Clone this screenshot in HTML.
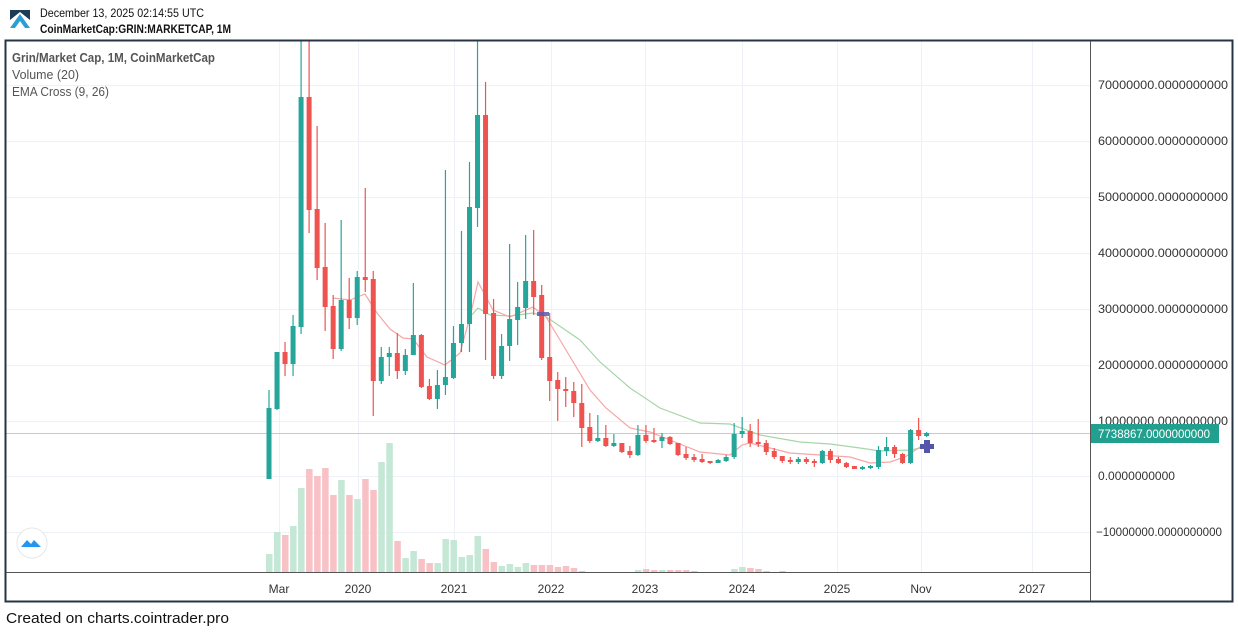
<!DOCTYPE html>
<html><head><meta charset="utf-8"><style>
body{margin:0;background:#fff;width:1238px;height:632px;overflow:hidden;font-family:"Liberation Sans",sans-serif}
svg{position:absolute;left:0;top:0}
</style></head><body>
<svg id="s" width="1238" height="632" xmlns="http://www.w3.org/2000/svg" font-family="Liberation Sans, sans-serif">
<rect width="1238" height="632" fill="#fff"/>
<g id="grid" stroke="#eef2f7" stroke-width="1"></g>
<g id="vol"></g>
<line x1="6" y1="433.5" x2="1090" y2="433.5" stroke="#a8d8d0" stroke-width="1"/>
<polyline fill="none" stroke="#a5d6a7" stroke-width="1.2" points="470,317 478,308 490,315 510,316 533,313 545,316 580,340 600,362 630,388 660,408 700,423 730,424 760,435 800,442 830,444 860,448 880,451 910,450 927,447"/>
<polyline fill="none" stroke="#f7a5a5" stroke-width="1.2" points="333,298 350,300 365,294 377,313 390,329 403,338 413,339 427,357 445,365 460,353 470,317 478,282 493,310 510,317 533,307 546,317 560,340 590,390 606,408 630,428 650,432 670,440 700,452 730,455 742,445 750,443 770,448 790,453 820,455 850,457 870,463 890,462 905,457 920,447 927,448"/>
<g id="c"></g>
<rect x="537" y="312" width="12" height="4" fill="#5b5bb0" opacity="0.85"/>
<path d="M924 440h6v4h4v5h-4v4h-6v-4h-4v-5h4z" fill="#5555aa"/>
<rect x="5.5" y="40.5" width="1227" height="561" fill="none" stroke="#263545" stroke-width="2"/>
<line x1="1090.5" y1="41" x2="1090.5" y2="601" stroke="#555" stroke-width="1"/>
<line x1="6" y1="572.5" x2="1090" y2="572.5" stroke="#555" stroke-width="1"/>
<g id="ylab" font-size="12" fill="#333"></g>
<rect x="1091" y="424" width="128" height="19" fill="#22a08f"/>
<text x="1098" y="438" font-size="12" fill="#fff" textLength="112" lengthAdjust="spacingAndGlyphs">7738867.0000000000</text>
<g id="xlab" font-size="12" fill="#333" text-anchor="middle"></g>
<path d="M10 28 L20 14 L30 28 L25 28 L20 21 L15 28Z" fill="#2a9fd6"/>
<path d="M10 10h20v10l-10-8-10 8z" fill="#1d3b55"/>
<text x="40" y="17" font-size="12" fill="#111" textLength="164" lengthAdjust="spacingAndGlyphs">December 13, 2025 02:14:55 UTC</text>
<text x="40" y="33" font-size="12" font-weight="bold" fill="#111" textLength="191" lengthAdjust="spacingAndGlyphs">CoinMarketCap:GRIN:MARKETCAP, 1M</text>
<text x="12" y="62" font-size="13" font-weight="bold" fill="#555" textLength="203" lengthAdjust="spacingAndGlyphs">Grin/Market Cap, 1M, CoinMarketCap</text>
<text x="12" y="79" font-size="13" fill="#555" textLength="67" lengthAdjust="spacingAndGlyphs">Volume (20)</text>
<text x="12" y="96" font-size="13" fill="#555" textLength="97" lengthAdjust="spacingAndGlyphs">EMA Cross (9, 26)</text>
<circle cx="32" cy="543" r="15" fill="#fff" stroke="#e3e6ea"/>
<path d="M21 547 l6-7 4 4 3-4 7 7z" fill="#2196f3"/>
<text x="6" y="623" font-size="15" fill="#111" textLength="223" lengthAdjust="spacingAndGlyphs">Created on charts.cointrader.pro</text>
</svg>
<script>
var NS="http://www.w3.org/2000/svg";
function el(p,t,a,txt){var e=document.createElementNS(NS,t);for(var k in a)e.setAttribute(k,a[k]);if(txt)e.textContent=txt;document.getElementById(p).appendChild(e);}
var ys=[85,141,197,253,309,365,421,476,532],vals=["70000000","60000000","50000000","40000000","30000000","20000000","10000000","0","\u221210000000"];
ys.forEach(function(y,i){var a={x:i==8?1096:1098,y:y+4};if(i<7)a.textLength=130;if(i==8)a.textLength=126;if(i==7)a.textLength=77;a.lengthAdjust="spacingAndGlyphs";el("ylab","text",a,vals[i]+".0000000000");});
ys.forEach(function(y){el("grid","line",{x1:6,x2:1090,y1:y+.5,y2:y+.5});});
var xs=[[279,"Mar"],[358,"2020"],[454,"2021"],[551,"2022"],[645,"2023"],[742,"2024"],[837,"2025"],[921,"Nov"],[1032,"2027"]];
xs.forEach(function(a){el("grid","line",{x1:a[0]+.5,x2:a[0]+.5,y1:41,y2:572});el("xlab","text",{x:a[0],y:593},a[1]);});
var C=[[479,408,390,479],[409,352,352,410],[352,364,342,376],[364,326,315,376],[327,97,40,334],[97,210,40,233],[209,268,126,280],[267,307,223,331],[306,349,295,359],[349,300,220,351],[300,318,278,329],[318,277,271,325],[277,280,188,292],[279,381,271,416],[381,357,347,384],[357,353,347,376],[353,371,333,379],[371,355,349,375],[355,335,283,355],[335,387,334,388],[386,399,379,400],[399,385,370,409],[385,377,170,395],[378,343,326,379],[343,324,231,352],[324,207,162,352],[208,115,40,227],[115,314,82,360],[313,376,299,379],[376,346,334,379],[346,319,244,361],[320,307,282,345],[308,281,235,319],[281,297,230,315],[295,358,285,360],[357,381,313,401],[380,389,372,421],[389,391,377,407],[391,403,382,417],[403,428,384,447],[427,441,413,443],[441,438,415,442],[438,446,425,447],[446,443,434,447],[443,452,443,453],[451,455,446,458],[455,435,425,456],[435,441,425,443],[440,441,428,443],[441,437,433,448],[437,444,436,445],[443,455,443,456],[454,458,447,460],[457,460,454,462],[459,462,454,463],[461,463,461,464],[463,460,459,463],[461,457,455,462],[457,434,423,459],[434,431,417,438],[431,443,424,447],[442,444,419,447],[443,452,440,455],[451,457,448,459],[456,461,456,463],[460,462,457,464],[462,459,457,464],[459,462,457,464],[461,463,459,467],[463,451,450,464],[451,460,449,463],[459,463,457,464],[463,467,462,468],[466,469,466,469],[469,467,466,470],[468,466,465,469],[467,450,446,469],[451,447,437,456],[447,454,445,458],[454,463,453,464],[463,430,429,464],[430,436,418,440],[436,433,432,437]];
var V=[554,532,535,526,488,469,476,468,495,480,495,499,479,490,462,443,541,558,551,559,563,563,539,540,557,555,536,549,562,566,564,567,563,565,565,565,567,566,568,571];
var vx={46:570,47:569,48:570,49:570,50:570,51:570,52:570,53:571,58:569,59:567,60:568,61:569,62:571,64:571};
C.forEach(function(c,i){var x=269+8.02*i,g=c[1]<=c[0];var col=g?"#26a69a":"#ef5350";
 var vt=i<V.length?V[i]:(vx[i]||572);
 if(vt<572)el("vol","rect",{x:x-3,y:vt,width:6.5,height:572-vt,fill:g?"#c4e7d6":"#f8c1c5"});
 el("c","line",{x1:x,x2:x,y1:c[2],y2:c[3],stroke:col,"stroke-width":1.2});
 var t=Math.min(c[0],c[1]),b=Math.max(c[0],c[1]);if(b-t<2){b=t+2}
 el("c","rect",{x:x-2.5,y:t,width:5,height:b-t,fill:col});});
</script>
</body></html>
